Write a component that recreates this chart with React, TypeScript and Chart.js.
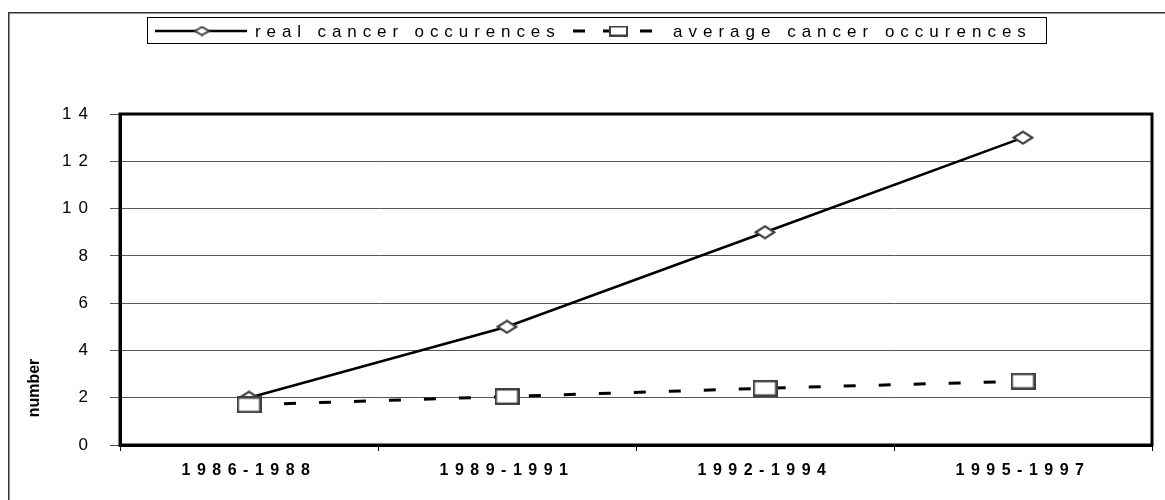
import React, { useEffect, useRef } from 'react';
import { Chart, registerables } from 'chart.js';

Chart.register(...registerables);

const categories = ['1986-1988', '1989-1991', '1992-1994', '1995-1997'];
const realValues = [2, 5, 9, 13];
const averageValues = [1.7, 2.05, 2.4, 2.7];
const yTickValues = [0, 2, 4, 6, 8, 10, 12, 14];
const seriesNames = ['real cancer occurences', 'average cancer occurences'];
const yTitle = 'number';

const FONT = '"Liberation Sans", Arial, sans-serif';

function makeDiamond(w: number, h: number, lw: number) {
  const c = document.createElement('canvas');
  c.width = w;
  c.height = h;
  const x = c.getContext('2d')!;
  const m = lw / 2 + 0.5;
  x.beginPath();
  x.moveTo(m, h / 2);
  x.lineTo(w / 2, m);
  x.lineTo(w - m, h / 2);
  x.lineTo(w / 2, h - m);
  x.closePath();
  x.fillStyle = '#ffffff';
  x.fill();
  x.lineWidth = lw;
  x.strokeStyle = '#404040';
  x.stroke();
  return c;
}

function makeBox(w: number, h: number, lw: number) {
  const c = document.createElement('canvas');
  c.width = w;
  c.height = h;
  const x = c.getContext('2d')!;
  const m = lw / 2;
  x.fillStyle = '#ffffff';
  x.fillRect(m, m, w - lw, h - lw);
  x.lineWidth = lw;
  x.strokeStyle = '#404040';
  x.strokeRect(m, m, w - lw, h - lw);
  return c;
}

export default function App() {
  const ref = useRef<HTMLCanvasElement | null>(null);

  useEffect(() => {
    document.body.style.margin = '0';
    const canvas = ref.current!;
    const diamond = makeDiamond(22, 15, 2.2);
    const box = makeBox(25, 17, 2.5);
    const legDiamond = makeDiamond(17, 11, 2);
    const legBox = makeBox(19, 11, 2);

    const spacingPlugin = {
      id: 'spacing',
      beforeDraw(chart: any) {
        const patch = (scale: any, sp: string) => {
          if (!scale || scale.__patched) return;
          const orig = scale.drawLabels.bind(scale);
          scale.drawLabels = (area: any) => {
            const ctx = chart.ctx;
            ctx.save();
            (ctx as any).letterSpacing = sp;
            orig(area);
            ctx.restore();
          };
          scale.__patched = true;
        };
        patch(chart.scales.x, '6.5px');
        patch(chart.scales.y, '7px');
      },
    };

    const framePlugin = {
      id: 'frame',
      beforeDraw(chart: any) {
        const ctx = chart.ctx;
        ctx.save();
        ctx.fillStyle = '#ffffff';
        ctx.fillRect(0, 0, chart.width, chart.height);
        ctx.strokeStyle = '#333333';
        ctx.lineWidth = 1.5;
        ctx.strokeRect(8.75, 12.75, chart.width + 20, chart.height + 20);
        ctx.restore();
      },
      beforeDatasetsDraw(chart: any) {
        const a = chart.chartArea;
        const ctx = chart.ctx;
        ctx.save();
        ctx.strokeStyle = '#000000';
        ctx.lineWidth = 3;
        ctx.strokeRect(a.left, a.top, a.right - a.left, a.bottom - a.top);
        ctx.restore();
      },
      afterDraw(chart: any) {
        const ctx = chart.ctx;
        ctx.save();
        // y title
        ctx.translate(35, 388);
        ctx.rotate(-Math.PI / 2);
        ctx.font = `bold 16px ${FONT}`;
        ctx.fillStyle = '#000';
        ctx.textAlign = 'center';
        ctx.textBaseline = 'middle';
        ctx.fillText(yTitle, 0, 0);
        ctx.restore();

        // legend
        ctx.save();
        const ly = 31;
        ctx.strokeStyle = '#000';
        ctx.lineWidth = 1;
        ctx.strokeRect(147.5, 17.5, 899, 26);
        ctx.strokeStyle = '#000';
        ctx.lineWidth = 2.5;
        ctx.beginPath();
        ctx.moveTo(155, ly);
        ctx.lineTo(247, ly);
        ctx.stroke();
        ctx.drawImage(legDiamond, 202 - 8.5, ly - 5.5);
        ctx.lineWidth = 3;
        ctx.beginPath();
        ctx.moveTo(573, ly);
        ctx.lineTo(585, ly);
        ctx.moveTo(603, ly);
        ctx.lineTo(610, ly);
        ctx.moveTo(640, ly);
        ctx.lineTo(652, ly);
        ctx.stroke();
        ctx.drawImage(legBox, 609, ly - 5.5);
        ctx.fillStyle = '#000';
        ctx.font = `17px ${FONT}`;
        ctx.textBaseline = 'middle';
        ctx.textAlign = 'left';
        (ctx as any).letterSpacing = '5.9px';
        ctx.fillText(seriesNames[0], 255, ly + 1);
        (ctx as any).letterSpacing = '6px';
        ctx.fillText(seriesNames[1], 673, ly + 1);
        ctx.restore();
      },
    };

    const chart = new Chart(canvas, {
      type: 'line',
      data: {
        labels: categories,
        datasets: [
          {
            label: seriesNames[0],
            data: realValues,
            borderColor: '#000000',
            borderWidth: 2.5,
            pointStyle: diamond as any,
            pointRadius: 8,
            order: 2,
          },
          {
            label: seriesNames[1],
            data: averageValues,
            borderColor: '#000000',
            borderWidth: 3,
            borderDash: [12, 23],
            pointStyle: box as any,
            pointRadius: 9,
            order: 1,
          },
        ],
      },
      options: {
        responsive: false,
        animation: false,
        devicePixelRatio: 1,
        layout: { padding: { left: 0, top: 114, right: 13, bottom: 0 } },
        plugins: {
          legend: { display: false },
          tooltip: { enabled: false },
        },
        scales: {
          x: {
            offset: true,
            grid: {
              offset: true,
              drawOnChartArea: false,
              drawTicks: true,
              tickLength: 6,
              tickColor: '#000',
              tickWidth: 1,
            },
            border: { display: true, color: '#000', width: 3 },
            ticks: {
              color: '#000',
              font: { family: FONT, size: 16, weight: 'bold' },
              padding: 10,
              maxRotation: 0,
            },
            afterFit(scale: any) {
              scale.height = 55;
            },
          },
          y: {
            min: 0,
            max: 14,
            afterBuildTicks(scale: any) {
              scale.ticks = yTickValues.map((v) => ({ value: v }));
            },
            grid: {
              color: '#555555',
              lineWidth: 1,
              drawTicks: true,
              tickLength: 10,
              tickColor: '#555555',
            },
            border: { display: true, color: '#000', width: 3 },
            ticks: {
              color: '#000',
              font: { family: FONT, size: 17 },
              padding: 15,
            },
            afterFit(scale: any) {
              scale.width = 120;
            },
          },
        },
      },
      plugins: [spacingPlugin, framePlugin],
    });
    return () => chart.destroy();
  }, []);

  return (
    <div style={{ width: 1165, height: 500 }}>
      <canvas ref={ref} width={1165} height={500} style={{ display: 'block' }} />
    </div>
  );
}
